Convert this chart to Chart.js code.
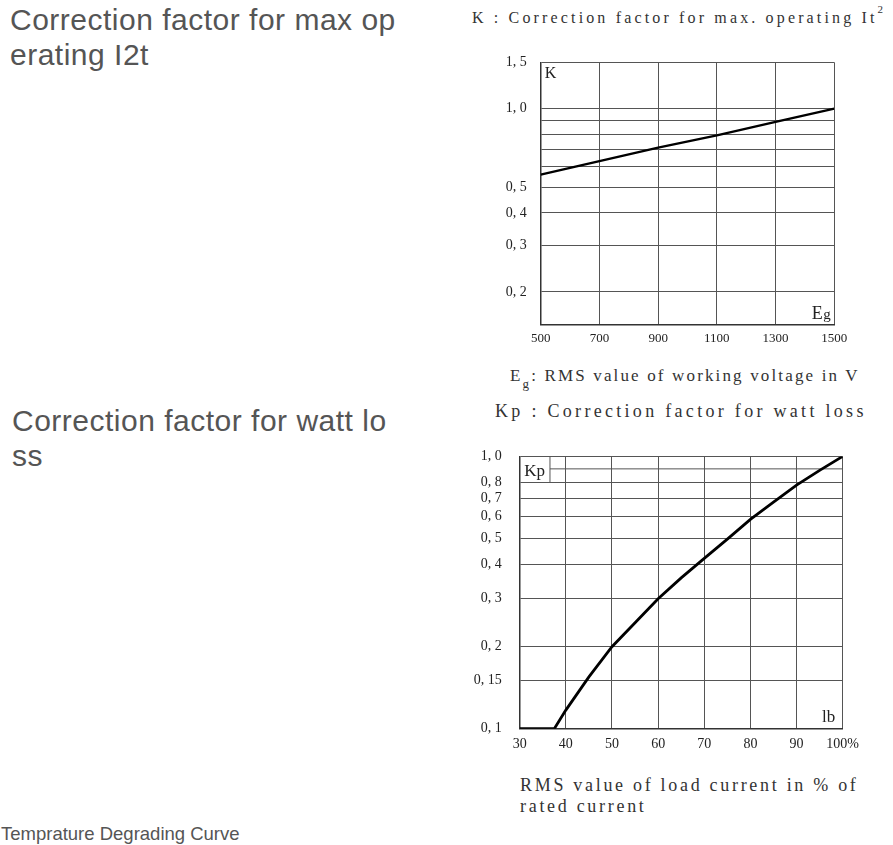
<!DOCTYPE html>
<html>
<head>
<meta charset="utf-8">
<script src="https://cdn.jsdelivr.net/npm/chart.js@4.4.0/dist/chart.umd.min.js"></script>
<style>
  body { margin: 0; background: #fff; width: 893px; height: 845px; position: relative; overflow: hidden;
         font-family: "Liberation Sans", Arial, sans-serif; }
  .head { position: absolute; color: #555; font-size: 30px; line-height: 34.5px; letter-spacing: 0.5px;
          word-break: break-all; }
  .cap { position: absolute; font-family: "Liberation Serif", serif; color: #333; white-space: nowrap; }
  .cap sup { font-size: 11px; vertical-align: 10px; line-height: 0; }
  .cap sub { font-size: 13px; vertical-align: -7px; line-height: 0; }
  canvas { position: absolute; }
</style>
</head>
<body>
<div class="head" style="left:10px;top:3px;width:394px">Correction factor for max operating I2t</div>
<div class="head" style="left:12px;top:404px;width:382px">Correction factor for watt loss</div>
<div style="position:absolute;left:1px;top:823px;font-size:18.5px;line-height:21.6px;color:#555">Temprature Degrading Curve</div>

<div class="cap" style="left:472px;top:9px;font-size:16px;letter-spacing:3.15px">K : Correction factor for max. operating It<sup>2</sup></div>
<canvas id="kChart" width="400" height="320" style="left:470px;top:40px"></canvas>
<div class="cap" style="left:510px;top:366px;font-size:17px;letter-spacing:2.15px">E<sub>g</sub>: RMS value of working voltage in V</div>

<div class="cap" style="left:495px;top:401px;font-size:18px;letter-spacing:3.3px">Kp : Correction factor for watt loss</div>
<canvas id="kpChart" width="425" height="330" style="left:455px;top:430px"></canvas>
<div class="cap" style="left:520px;top:775px;font-size:18px;line-height:21px;letter-spacing:2.7px">RMS value of load current in % of<br>rated current</div>

<script>
// K : correction factor vs working voltage
const voltage = [500, 700, 900, 1100, 1300, 1500];
const kFactor = [0.56, 0.63, 0.71, 0.79, 0.89, 1.0];
const voltageTicks = [500, 700, 900, 1100, 1300, 1500];
const kGrid = [1.5, 1.0, 0.9, 0.8, 0.7, 0.6, 0.5, 0.4, 0.3, 0.2, 0.15];
const kTickValues = [1.5, 1.0, 0.5, 0.4, 0.3, 0.2];
const kTickText = ['1, 5', '1, 0', '0, 5', '0, 4', '0, 3', '0, 2'];

// Kp : correction factor vs load current
const loadPct = [30, 37.5, 40, 45, 50, 55, 60, 65, 70, 75, 80, 85, 90, 95, 100];
const kpFactor = [0.1, 0.1, 0.117, 0.155, 0.2, 0.245, 0.3, 0.358, 0.422, 0.497, 0.587, 0.68, 0.784, 0.889, 1.0];
const loadTicks = [30, 40, 50, 60, 70, 80, 90, 100];
const loadTickText = ['30', '40', '50', '60', '70', '80', '90', '100%'];
const kpGrid = [1.0, 0.9, 0.8, 0.7, 0.6, 0.5, 0.4, 0.3, 0.2, 0.15, 0.1];
const kpTickValues = [1.0, 0.8, 0.7, 0.6, 0.5, 0.4, 0.3, 0.2, 0.15, 0.1];
const kpTickText = ['1, 0', '0, 8', '0, 7', '0, 6', '0, 5', '0, 4', '0, 3', '0, 2', '0, 15', '0, 1'];

const gridColor = '#555';
const tickFont = { family: 'Liberation Serif', size: 14 };

function labelFor(values, texts, v) {
  const i = values.findIndex(x => Math.abs(x - v) < 1e-9);
  return i < 0 ? '' : texts[i];
}

// corner labels "K" and "Eg" inside the plot
const kLabels = {
  id: 'kLabels',
  afterDatasetsDraw(chart) {
    const { ctx, chartArea: a } = chart;
    ctx.save();
    ctx.fillStyle = '#222';
    ctx.textBaseline = 'alphabetic';
    ctx.font = '16px "Liberation Serif"';
    ctx.textAlign = 'left';
    ctx.fillText('K', a.left + 4, a.top + 16);
    ctx.textAlign = 'right';
    ctx.font = '15px "Liberation Serif"';
    const gw = ctx.measureText('g').width;
    ctx.fillText('g', a.right - 3.5, a.bottom - 6);
    ctx.font = '18px "Liberation Serif"';
    ctx.fillText('E', a.right - 4 - gw, a.bottom - 5.5);
    ctx.restore();
  }
};

// "Kp" box, the short 0.9 grid line and the "lb" label
const kpLabels = {
  id: 'kpLabels',
  beforeDatasetsDraw(chart) {
    const { ctx, chartArea: a, scales } = chart;
    ctx.save();
    ctx.font = '17px "Liberation Serif"';
    const bx = a.left + 4.5 + ctx.measureText('Kp').width + 5;
    ctx.strokeStyle = gridColor;
    ctx.lineWidth = 1;
    ctx.beginPath();
    ctx.moveTo(bx, a.top);
    ctx.lineTo(bx, scales.y.getPixelForValue(0.8));
    const y9 = scales.y.getPixelForValue(0.9);
    ctx.moveTo(bx, y9);
    ctx.lineTo(a.right, y9);
    ctx.stroke();
    ctx.fillStyle = '#222';
    ctx.textAlign = 'left';
    ctx.fillText('Kp', a.left + 4.5, a.top + 20);
    ctx.textAlign = 'right';
    ctx.fillText('lb', a.right - 7.5, a.bottom - 7);
    ctx.restore();
  }
};

new Chart(document.getElementById('kChart'), {
  type: 'line',
  data: {
    datasets: [{
      data: voltage.map((v, i) => ({ x: v, y: kFactor[i] })),
      borderColor: '#000',
      borderWidth: 2.3,
      pointRadius: 0,
      tension: 0
    }]
  },
  options: {
    responsive: false,
    animation: false,
    layout: { padding: { top: 19.3, right: 35.7, bottom: 0, left: 0 } },
    plugins: { legend: { display: false }, tooltip: { enabled: false } },
    scales: {
      x: {
        type: 'linear', min: 500, max: 1500,
        afterBuildTicks: s => { s.ticks = voltageTicks.map(v => ({ value: v })); },
        afterFit: s => { s.height = 35.3; },
        grid: { color: gridColor, lineWidth: 1, drawTicks: false },
        border: { color: '#333', width: 1.5 },
        ticks: {
          padding: 6, maxRotation: 0, autoSkip: false, color: '#222',
          font: { family: 'Liberation Serif', size: 13 },
          callback: v => String(v)
        }
      },
      y: {
        type: 'logarithmic', min: 0.15, max: 1.5,
        afterBuildTicks: s => { s.ticks = kGrid.map(v => ({ value: v })); },
        afterFit: s => { s.width = 70.7; },
        grid: { color: gridColor, lineWidth: 1, drawTicks: false },
        border: { color: '#333', width: 1.5 },
        ticks: {
          padding: 14, autoSkip: false, color: '#222', font: tickFont,
          callback: v => labelFor(kTickValues, kTickText, v)
        }
      }
    }
  },
  plugins: [kLabels]
});

new Chart(document.getElementById('kpChart'), {
  type: 'line',
  data: {
    datasets: [{
      data: loadPct.map((v, i) => ({ x: v, y: kpFactor[i] })),
      borderColor: '#000',
      borderWidth: 2.8,
      pointRadius: 0,
      tension: 0
    }]
  },
  options: {
    responsive: false,
    animation: false,
    layout: { padding: { top: 24.3, right: 37.3, bottom: 0, left: 0 } },
    plugins: { legend: { display: false }, tooltip: { enabled: false } },
    scales: {
      x: {
        type: 'linear', min: 30, max: 100,
        afterBuildTicks: s => { s.ticks = loadTicks.map(v => ({ value: v })); },
        afterFit: s => { s.height = 31.3; },
        grid: { color: gridColor, lineWidth: 1, drawTicks: false },
        border: { color: '#333', width: 1.5 },
        ticks: {
          padding: 7, maxRotation: 0, autoSkip: false, color: '#222',
          font: { family: 'Liberation Serif', size: 14 },
          callback: v => labelFor(loadTicks, loadTickText, v)
        }
      },
      y: {
        type: 'logarithmic', min: 0.1, max: 1.0,
        afterBuildTicks: s => { s.ticks = kpGrid.map(v => ({ value: v })); },
        afterFit: s => { s.width = 64.7; },
        grid: {
          lineWidth: 1, drawTicks: false,
          color: c => (c.tick && Math.abs(c.tick.value - 0.9) < 1e-9) ? 'rgba(0,0,0,0)' : gridColor
        },
        border: { color: '#333', width: 1.5 },
        ticks: {
          padding: 18, autoSkip: false, color: '#222', font: tickFont,
          callback: v => labelFor(kpTickValues, kpTickText, v)
        }
      }
    }
  },
  plugins: [kpLabels]
});
</script>
</body>
</html>
